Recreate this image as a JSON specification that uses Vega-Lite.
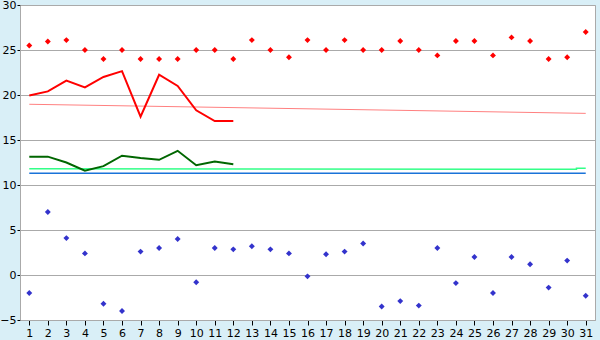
{
  "$schema": "https://vega.github.io/schema/vega-lite/v6.json",
  "autosize": "none",
  "width": 575,
  "height": 315,
  "padding": {"left": 20, "top": 5, "right": 5, "bottom": 20},
  "background": "#d9eff7",
  "config": {
    "view": {"stroke": "#aaaaaa", "fill": "white"},
    "axis": {"labelFont": "DejaVu Sans", "labelFontSize": 11, "labelColor": "black", "title": null, "domainColor": "#aaaaaa", "tickColor": "black"}
  },
  "datasets": {
    "maxd": [
      {"day": 1, "v": 25.5}, {"day": 2, "v": 25.95}, {"day": 3, "v": 26.1}, {"day": 4, "v": 25}, {"day": 5, "v": 24},
      {"day": 6, "v": 25}, {"day": 7, "v": 24}, {"day": 8, "v": 24}, {"day": 9, "v": 24}, {"day": 10, "v": 25},
      {"day": 11, "v": 25}, {"day": 12, "v": 24}, {"day": 13, "v": 26.1}, {"day": 14, "v": 25}, {"day": 15, "v": 24.2},
      {"day": 16, "v": 26.1}, {"day": 17, "v": 25}, {"day": 18, "v": 26.1}, {"day": 19, "v": 25}, {"day": 20, "v": 25},
      {"day": 21, "v": 26}, {"day": 22, "v": 25}, {"day": 23, "v": 24.4}, {"day": 24, "v": 26}, {"day": 25, "v": 26},
      {"day": 26, "v": 24.4}, {"day": 27, "v": 26.4}, {"day": 28, "v": 26}, {"day": 29, "v": 24}, {"day": 30, "v": 24.2},
      {"day": 31, "v": 27}
    ],
    "mind": [
      {"day": 1, "v": -2}, {"day": 2, "v": 7}, {"day": 3, "v": 4.1}, {"day": 4, "v": 2.4}, {"day": 5, "v": -3.2},
      {"day": 6, "v": -4}, {"day": 7, "v": 2.6}, {"day": 8, "v": 3}, {"day": 9, "v": 4}, {"day": 10, "v": -0.8},
      {"day": 11, "v": 3}, {"day": 12, "v": 2.85}, {"day": 13, "v": 3.2}, {"day": 14, "v": 2.85}, {"day": 15, "v": 2.4},
      {"day": 16, "v": -0.15}, {"day": 17, "v": 2.3}, {"day": 18, "v": 2.6}, {"day": 19, "v": 3.5}, {"day": 20, "v": -3.5},
      {"day": 21, "v": -2.9}, {"day": 22, "v": -3.4}, {"day": 23, "v": 3}, {"day": 24, "v": -0.9}, {"day": 25, "v": 2},
      {"day": 26, "v": -2}, {"day": 27, "v": 2}, {"day": 28, "v": 1.2}, {"day": 29, "v": -1.4}, {"day": 30, "v": 1.6},
      {"day": 31, "v": -2.3}
    ],
    "redline": [
      {"day": 1, "v": 19.95}, {"day": 2, "v": 20.4}, {"day": 3, "v": 21.6}, {"day": 4, "v": 20.85}, {"day": 5, "v": 22},
      {"day": 6, "v": 22.65}, {"day": 7, "v": 17.6}, {"day": 8, "v": 22.25}, {"day": 9, "v": 21}, {"day": 10, "v": 18.3},
      {"day": 11, "v": 17.1}, {"day": 12, "v": 17.1}
    ],
    "greenline": [
      {"day": 1, "v": 13.15}, {"day": 2, "v": 13.15}, {"day": 3, "v": 12.5}, {"day": 4, "v": 11.6}, {"day": 5, "v": 12.1},
      {"day": 6, "v": 13.25}, {"day": 7, "v": 13}, {"day": 8, "v": 12.8}, {"day": 9, "v": 13.8}, {"day": 10, "v": 12.2},
      {"day": 11, "v": 12.6}, {"day": 12, "v": 12.3}
    ],
    "pink": [{"day": 1, "v": 18.97}, {"day": 31, "v": 17.96}],
    "lgreen": [{"day": 1, "v": 11.8}, {"day": 30.5, "v": 11.75}, {"day": 30.5, "v": 11.85}, {"day": 31, "v": 11.85}],
    "blue": [{"day": 1, "v": 11.3}, {"day": 31, "v": 11.3}]
  },
  "encoding": {
    "x": {"field": "day", "type": "quantitative", "scale": {"domain": [0.5, 31.5], "nice": false, "zero": false},
      "axis": {"values": [1,2,3,4,5,6,7,8,9,10,11,12,13,14,15,16,17,18,19,20,21,22,23,24,25,26,27,28,29,30,31], "grid": false, "tickSize": 5, "labelPadding": 2, "labelFlush": false, "labelOverlap": false}},
    "y": {"field": "v", "type": "quantitative", "scale": {"domain": [-5, 30], "nice": false, "zero": false},
      "axis": {"values": [-5, 0, 5, 10, 15, 20, 25, 30], "grid": true, "gridColor": "#aaaaaa", "tickSize": 3, "labelPadding": 1, "labelFlush": false}}
  },
  "layer": [
    {"data": {"name": "pink"}, "mark": {"type": "line", "color": "#ff8080", "strokeWidth": 1}},
    {"data": {"name": "lgreen"}, "mark": {"type": "line", "color": "#33ff88", "strokeWidth": 1.5}},
    {"data": {"name": "blue"}, "mark": {"type": "line", "color": "#1a73d9", "strokeWidth": 1.5}},
    {"data": {"name": "redline"}, "mark": {"type": "line", "color": "#ff0000", "strokeWidth": 2}},
    {"data": {"name": "greenline"}, "mark": {"type": "line", "color": "#006600", "strokeWidth": 2}},
    {"data": {"name": "maxd"}, "mark": {"type": "point", "shape": "diamond", "filled": true, "size": 35, "color": "#ff0000", "opacity": 1}},
    {"data": {"name": "mind"}, "mark": {"type": "point", "shape": "diamond", "filled": true, "size": 35, "color": "#3333cc", "opacity": 1}}
  ]
}
